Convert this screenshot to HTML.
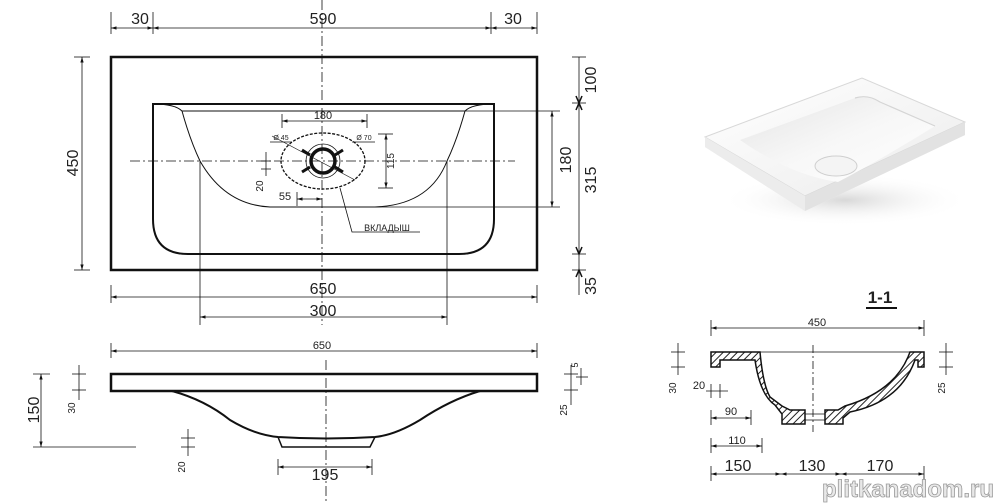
<!DOCTYPE html>
<html><head><meta charset="utf-8"><style>
html,body{margin:0;padding:0;background:#fff;width:1000px;height:503px;overflow:hidden}
text{font-family:"Liberation Sans","DejaVu Sans",sans-serif;fill:#222}
</style></head><body>
<svg width="1000" height="503" viewBox="0 0 1000 503" xmlns="http://www.w3.org/2000/svg">
<defs>
<marker id="a" viewBox="0 0 10 10" refX="10" refY="5" markerWidth="7" markerHeight="7" orient="auto-start-reverse"><path d="M0,2 L10,5 L0,8 z" fill="#111"/></marker>
<pattern id="h" width="5" height="5" patternUnits="userSpaceOnUse" patternTransform="rotate(45)"><rect width="5" height="5" fill="#fff"/><line x1="0" y1="0" x2="0" y2="5" stroke="#222" stroke-width="2"/></pattern>
<linearGradient id="g1" x1="0" y1="0" x2="1" y2="1"><stop offset="0" stop-color="#fff"/><stop offset="1" stop-color="#ececec"/></linearGradient>
<linearGradient id="g2" x1="0" y1="0" x2="1" y2="1"><stop offset="0" stop-color="#e4e4e4"/><stop offset="0.5" stop-color="#f7f7f7"/><stop offset="1" stop-color="#fff"/></linearGradient>
<radialGradient id="sh" cx="0.5" cy="0.5" r="0.5"><stop offset="0" stop-color="#d8d8d8"/><stop offset="1" stop-color="#fff" stop-opacity="0"/></radialGradient>
</defs>
<g fill="none" stroke="#111">
<!-- PLAN VIEW -->
<line x1="322" y1="0" x2="322" y2="325" stroke-width="0.8" stroke-dasharray="10,3,2,3"/>
<line x1="130" y1="161" x2="515" y2="161" stroke-width="0.8" stroke-dasharray="10,3,2,3"/>
<rect x="111" y="57" width="426" height="213" stroke-width="2.5"/>
<path d="M153,104 H494 V219 Q494,254 459,254 H188 Q153,254 153,219 Z" stroke-width="2"/>
<path d="M153,104 Q175,104 182,111 H465 Q472,104 494,104" stroke-width="1"/>
<path d="M182,111 Q190,140 200,161 Q225,205 270,207 H375 Q430,205 447,161 Q457,140 465,111" stroke-width="1"/>
<line x1="111" y1="12" x2="111" y2="34" stroke-width="0.8"/>
<line x1="153" y1="12" x2="153" y2="34" stroke-width="0.8"/>
<line x1="491" y1="12" x2="491" y2="34" stroke-width="0.8"/>
<line x1="537" y1="12" x2="537" y2="34" stroke-width="0.8"/>
<line x1="111" y1="28" x2="153" y2="28" stroke-width="0.8" marker-start="url(#a)" marker-end="url(#a)"/>
<line x1="153" y1="28" x2="491" y2="28" stroke-width="0.8" marker-start="url(#a)" marker-end="url(#a)"/>
<line x1="491" y1="28" x2="537" y2="28" stroke-width="0.8" marker-start="url(#a)" marker-end="url(#a)"/>
<line x1="74" y1="57" x2="90" y2="57" stroke-width="0.8"/>
<line x1="74" y1="270" x2="90" y2="270" stroke-width="0.8"/>
<line x1="82" y1="57" x2="82" y2="270" stroke-width="0.8" marker-start="url(#a)" marker-end="url(#a)"/>
<line x1="572" y1="57" x2="586" y2="57" stroke-width="0.8"/>
<line x1="572" y1="103" x2="586" y2="103" stroke-width="0.8"/>
<line x1="572" y1="254" x2="586" y2="254" stroke-width="0.8"/>
<line x1="572" y1="270" x2="586" y2="270" stroke-width="0.8"/>
<line x1="579" y1="57" x2="579" y2="295" stroke-width="0.8"/>
<path d="M576,96 L579,103 L582,96 M576,110 L579,103 L582,110 M576,247 L579,254 L582,247 M576,277 L579,270 L582,277" stroke-width="1.5"/>
<line x1="465" y1="111" x2="560" y2="111" stroke-width="0.8"/>
<line x1="375" y1="207" x2="560" y2="207" stroke-width="0.8"/>
<line x1="552" y1="111" x2="552" y2="207" stroke-width="0.8" marker-start="url(#a)" marker-end="url(#a)"/>
<line x1="111" y1="285" x2="111" y2="303" stroke-width="0.8"/>
<line x1="537" y1="285" x2="537" y2="303" stroke-width="0.8"/>
<line x1="111" y1="297" x2="537" y2="297" stroke-width="0.8" marker-start="url(#a)" marker-end="url(#a)"/>
<line x1="200" y1="161" x2="200" y2="325" stroke-width="0.8"/>
<line x1="447" y1="161" x2="447" y2="325" stroke-width="0.8"/>
<line x1="200" y1="317" x2="447" y2="317" stroke-width="0.8" marker-start="url(#a)" marker-end="url(#a)"/>
<ellipse cx="323" cy="161" rx="42" ry="28" stroke-width="1.3" stroke-dasharray="3,1.5"/>
<circle cx="323" cy="161" r="17" stroke-width="0.8"/>
<circle cx="323" cy="161" r="12" stroke-width="3.5"/>
<line x1="272" y1="136" x2="355" y2="180" stroke-width="0.7"/>
<line x1="270" y1="142" x2="292" y2="142" stroke-width="0.7"/>
<line x1="352" y1="142" x2="375" y2="142" stroke-width="0.7"/>
<path d="M302,150 L310,155 M343,150 L335,155 M302,172 L310,167 M343,172 L335,167" stroke-width="3"/>
<line x1="282" y1="114" x2="282" y2="128" stroke-width="0.8"/>
<line x1="367" y1="114" x2="367" y2="128" stroke-width="0.8"/>
<line x1="282" y1="121" x2="367" y2="121" stroke-width="0.8" marker-start="url(#a)" marker-end="url(#a)"/>
<line x1="378" y1="134" x2="393" y2="134" stroke-width="0.8"/>
<line x1="378" y1="188" x2="393" y2="188" stroke-width="0.8"/>
<line x1="386" y1="134" x2="386" y2="188" stroke-width="0.8" marker-start="url(#a)" marker-end="url(#a)"/>
<line x1="266" y1="152" x2="266" y2="176" stroke-width="0.8"/>
<line x1="261" y1="161" x2="271" y2="161" stroke-width="0.8"/>
<line x1="261" y1="169" x2="271" y2="169" stroke-width="0.8"/>
<line x1="297" y1="192" x2="297" y2="206" stroke-width="0.8"/>
<line x1="297" y1="199" x2="322" y2="199" stroke-width="0.8" marker-start="url(#a)" marker-end="url(#a)"/>
<polyline points="340,188 352,232 420,232" stroke-width="0.8"/>
<!-- SIDE VIEW -->
<line x1="326" y1="360" x2="326" y2="503" stroke-width="0.8" stroke-dasharray="10,3,2,3"/>
<line x1="111" y1="343" x2="111" y2="358" stroke-width="0.8"/>
<line x1="537" y1="343" x2="537" y2="358" stroke-width="0.8"/>
<line x1="111" y1="351" x2="537" y2="351" stroke-width="0.8" marker-start="url(#a)" marker-end="url(#a)"/>
<rect x="111" y="374" width="426" height="17" stroke-width="2.5"/>
<path d="M172,391 Q205,400 230,420 Q255,435 278,437 Q326,440 375,437 Q395,435 420,420 Q450,400 480,391" stroke-width="2"/>
<path d="M278,437 L282,447 H370 L375,437" stroke-width="1.5"/>
<line x1="33" y1="374" x2="50" y2="374" stroke-width="0.8"/>
<line x1="33" y1="447" x2="136" y2="447" stroke-width="0.8"/>
<line x1="41" y1="374" x2="41" y2="447" stroke-width="0.8" marker-start="url(#a)" marker-end="url(#a)"/>
<line x1="79" y1="365" x2="79" y2="400" stroke-width="0.8"/>
<line x1="72" y1="374" x2="86" y2="374" stroke-width="0.8"/>
<line x1="72" y1="390" x2="86" y2="390" stroke-width="0.8"/>
<line x1="188" y1="429" x2="188" y2="456" stroke-width="0.8"/>
<line x1="181" y1="438" x2="195" y2="438" stroke-width="0.8"/>
<line x1="181" y1="447" x2="195" y2="447" stroke-width="0.8"/>
<line x1="278" y1="459" x2="278" y2="475" stroke-width="0.8"/>
<line x1="372" y1="459" x2="372" y2="475" stroke-width="0.8"/>
<line x1="278" y1="467" x2="372" y2="467" stroke-width="0.8" marker-start="url(#a)" marker-end="url(#a)"/>
<line x1="571" y1="365" x2="571" y2="405" stroke-width="0.8"/>
<line x1="564" y1="374" x2="578" y2="374" stroke-width="0.8"/>
<line x1="564" y1="390" x2="578" y2="390" stroke-width="0.8"/>
<line x1="581" y1="368" x2="581" y2="385" stroke-width="0.8"/>
<line x1="576" y1="377" x2="588" y2="377" stroke-width="0.8"/>
<!-- SECTION 1-1 -->
<line x1="866" y1="308" x2="897" y2="308" stroke-width="2"/>
<line x1="711" y1="320" x2="711" y2="336" stroke-width="0.8"/>
<line x1="924" y1="320" x2="924" y2="336" stroke-width="0.8"/>
<line x1="711" y1="328" x2="924" y2="328" stroke-width="0.8" marker-start="url(#a)" marker-end="url(#a)"/>
<line x1="760" y1="352" x2="910" y2="352" stroke-width="0.8"/>
<line x1="813" y1="345" x2="813" y2="432" stroke-width="0.8" stroke-dasharray="8,3,2,3"/>
<path d="M711,352 L760,352 Q763,385 770,397 L782,406 L790,410 L805,410 L805,424 L782,424 L782,414 L775,405 Q760,395 755,360 L720,360 L720,367 L711,367 Z" fill="url(#h)" stroke-width="1.5"/>
<path d="M825,410 L838,410 L845,406 Q893,392 908,357 L910,352 L924,352 L924,367 L918,367 L918,360 L915,360 Q900,402 850,412 L843,418 L843,424 L825,424 Z" fill="url(#h)" stroke-width="1.5"/>
<line x1="805" y1="414" x2="825" y2="414" stroke-width="0.8"/>
<line x1="805" y1="420" x2="825" y2="420" stroke-width="0.8"/>
<line x1="678" y1="343" x2="678" y2="375" stroke-width="0.8"/>
<line x1="671" y1="352" x2="685" y2="352" stroke-width="0.8"/>
<line x1="671" y1="367" x2="685" y2="367" stroke-width="0.8"/>
<line x1="946" y1="343" x2="946" y2="375" stroke-width="0.8"/>
<line x1="939" y1="352" x2="953" y2="352" stroke-width="0.8"/>
<line x1="939" y1="367" x2="953" y2="367" stroke-width="0.8"/>
<line x1="706" y1="391" x2="728" y2="391" stroke-width="0.8"/>
<line x1="711" y1="384" x2="711" y2="398" stroke-width="0.8"/>
<line x1="720" y1="384" x2="720" y2="398" stroke-width="0.8"/>
<line x1="711" y1="410" x2="711" y2="425" stroke-width="0.8"/>
<line x1="751" y1="410" x2="751" y2="425" stroke-width="0.8"/>
<line x1="711" y1="418" x2="751" y2="418" stroke-width="0.8" marker-start="url(#a)" marker-end="url(#a)"/>
<line x1="711" y1="438" x2="711" y2="453" stroke-width="0.8"/>
<line x1="762" y1="438" x2="762" y2="453" stroke-width="0.8"/>
<line x1="711" y1="446" x2="762" y2="446" stroke-width="0.8" marker-start="url(#a)" marker-end="url(#a)"/>
<line x1="711" y1="466" x2="711" y2="481" stroke-width="0.8"/>
<line x1="924" y1="466" x2="924" y2="481" stroke-width="0.8"/>
<line x1="711" y1="474" x2="781" y2="474" stroke-width="0.8" marker-start="url(#a)" marker-end="url(#a)"/>
<line x1="781" y1="474" x2="841" y2="474" stroke-width="0.8" marker-start="url(#a)" marker-end="url(#a)"/>
<line x1="841" y1="474" x2="924" y2="474" stroke-width="0.8" marker-start="url(#a)" marker-end="url(#a)"/>
</g>
<!-- photo -->
<ellipse cx="845" cy="200" rx="125" ry="26" fill="url(#sh)"/>
<path d="M705,137 L862,78 L965,122 L965,135 L805,211 L705,147 Z" fill="#eee"/>
<path d="M705,137 L862,78 L965,122 L805,196 Z" fill="url(#g1)" stroke="#d8d8d8" stroke-width="1"/>
<path d="M805,196 L965,122 L965,135 L805,211 Z" fill="#e2e2e2"/>
<path d="M705,137 L805,196 L805,211 L705,147 Z" fill="#ececec"/>
<path d="M740,140 L855,98 Q870,96 880,102 L935,126 Q880,160 838,182 Q790,175 740,140 Z" fill="url(#g2)"/>
<path d="M855,98 Q868,94 880,102 L935,126" fill="none" stroke="#d5d5d5" stroke-width="1.2"/>
<ellipse cx="836" cy="166" rx="21" ry="10" fill="#f4f4f4" stroke="#cfcfcf"/>
<!-- texts -->
<g font-size="16" text-anchor="middle">
<text x="140" y="24">30</text><text x="323" y="24">590</text><text x="513" y="24">30</text>
<text x="323" y="294">650</text><text x="323" y="316">300</text>
<text x="325" y="480">195</text>
<text transform="translate(78,163) rotate(-90)">450</text>
<text transform="translate(596,80) rotate(-90)">100</text>
<text transform="translate(596,180) rotate(-90)">315</text>
<text transform="translate(596,286) rotate(-90)">35</text>
<text transform="translate(571,160) rotate(-90)">180</text>
<text transform="translate(39,410) rotate(-90)">150</text>
<text x="738" y="471">150</text><text x="812" y="471">130</text><text x="880" y="471">170</text>
<text x="880" y="303" font-weight="bold" font-size="17">1-1</text>
</g>
<g font-size="11" text-anchor="middle">
<text x="323" y="119">180</text>
<text x="285" y="200">55</text>
<text x="322" y="349">650</text>
<text x="817" y="326">450</text>
<text x="387" y="231" font-size="9">ВКЛАДЫШ</text>
<text transform="translate(394,161) rotate(-90)" font-size="10">115</text>
<text transform="translate(263,186) rotate(-90)" font-size="10">20</text>
<text transform="translate(75,408) rotate(-90)" font-size="10">30</text>
<text transform="translate(185,467) rotate(-90)" font-size="10">20</text>
<text transform="translate(567,410) rotate(-90)" font-size="10">25</text>
<text transform="translate(578,365) rotate(-90)" font-size="9">5</text>
<text transform="translate(676,388) rotate(-90)" font-size="10">30</text>
<text transform="translate(945,388) rotate(-90)" font-size="10">25</text>
<text x="699" y="389">20</text>
<text x="731" y="415">90</text>
<text x="737" y="444">110</text>
<text x="281" y="140" font-size="7">Ø 45</text>
<text x="364" y="140" font-size="7">Ø 70</text>
</g>
<text x="908" y="497" font-size="24" font-weight="bold" text-anchor="middle" style="fill:#e8e8e8;stroke:#999;stroke-width:0.8">plitkanadom.ru</text>
</svg>
</body></html>
